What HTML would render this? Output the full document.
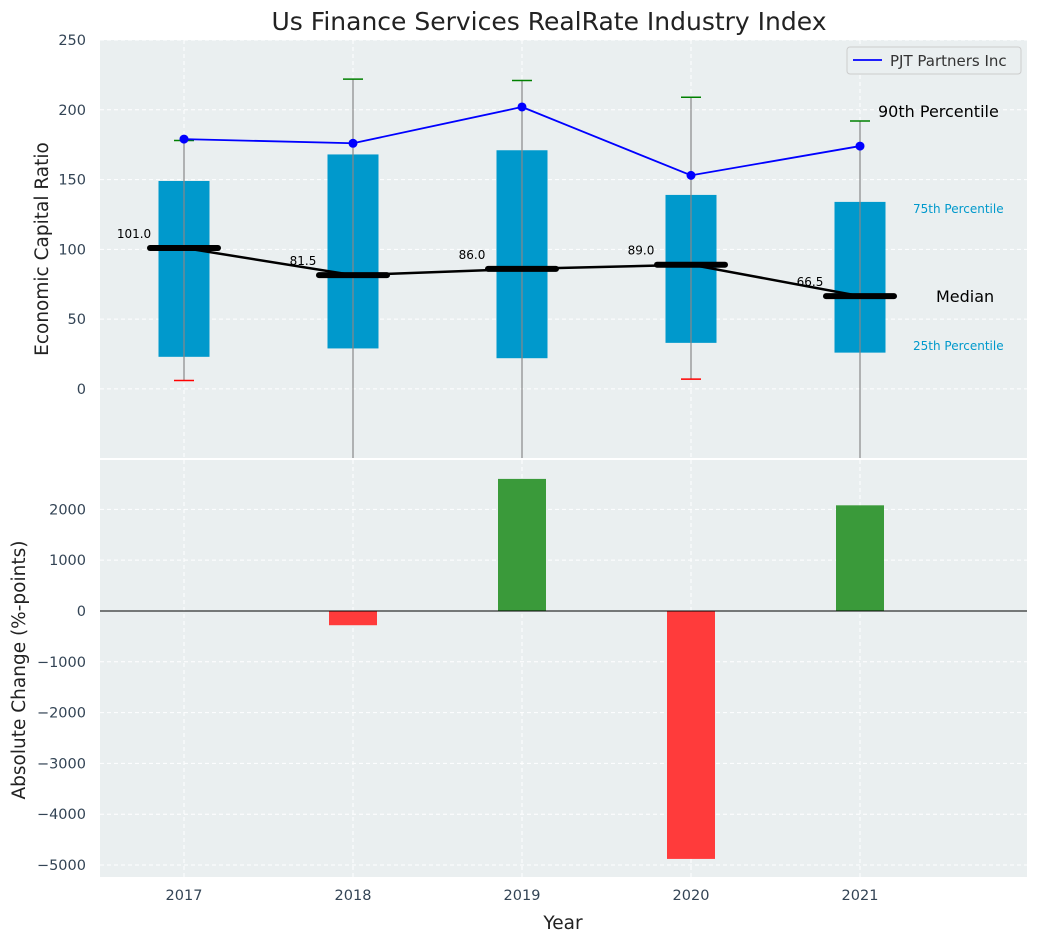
<!DOCTYPE html>
<html><head><meta charset="utf-8"><style>
body{margin:0;background:#fff;font-family:"Liberation Sans","DejaVu Sans",sans-serif}
svg text{font-family:"DejaVu Sans","Liberation Sans",sans-serif}
</style></head><body>
<svg id="c" width="1039" height="942" xmlns="http://www.w3.org/2000/svg"></svg>
<script>
const years=[2017,2018,2019,2020,2021];
const p75=[149,168,171,139,134];
const p25=[23,29,22,33,26];
const p90=[178,222,221,209,192];
const p10=[6,-60,-60,7,-60];
const medians=[101,81.5,86,89,66.5];
const company=[179,176,202,153,174];
const changes=[0,-280,2600,-4880,2080];
const topTicks=[0,50,100,150,200,250];
const botTicks=[-5000,-4000,-3000,-2000,-1000,0,1000,2000];
const NS="http://www.w3.org/2000/svg";
const svg=document.getElementById('c');
function el(t,a,txt){const e=document.createElementNS(NS,t);for(const k in a)e.setAttribute(k,a[k]);if(txt!=null)e.textContent=txt;svg.appendChild(e);return e;}
const L=100,R=1027;
const x=v=>184+(v-2017)*169;
const T0=40,T1=458,B0=460,B1=877;
const yT=v=>T0+(250-v)/(250-(-49.5))*(T1-T0);
const yB=v=>B0+(2972-v)/(2972-(-5236))*(B1-B0);
let e=el('rect',{x:L,y:T0,width:R-L,height:T1-T0,fill:'#eaeff0'});
e=el('rect',{x:L,y:B0,width:R-L,height:B1-B0,fill:'#eaeff0'});
topTicks.forEach(t=>{el('line',{x1:L,x2:R,y1:yT(t),y2:yT(t),stroke:'#fff','stroke-dasharray':'4,3','stroke-width':1});
e=el('text',{x:L-14,y:yT(t)+5,'text-anchor':'end','font-size':14.5,fill:'#334455'},t);});
botTicks.forEach(t=>{el('line',{x1:L,x2:R,y1:yB(t),y2:yB(t),stroke:'#fff','stroke-dasharray':'4,3','stroke-width':1});
e=el('text',{x:L-14,y:yB(t)+5,'text-anchor':'end','font-size':14.5,fill:'#334455'},t<0?'\u2212'+(-t):t);});
years.forEach(yv=>{el('line',{x1:x(yv),x2:x(yv),y1:T0,y2:T1,stroke:'#fff','stroke-dasharray':'4,3'});el('line',{x1:x(yv),x2:x(yv),y1:B0,y2:B1,stroke:'#fff','stroke-dasharray':'4,3'});
e=el('text',{x:x(yv),y:900,'text-anchor':'middle','font-size':14.5,fill:'#334455'},yv);});
const hw=25.5;
years.forEach((yv,i)=>{
 e=el('rect',{x:x(yv)-hw,y:yT(p75[i]),width:2*hw,height:yT(p25[i])-yT(p75[i]),fill:'#0099cc'});
 const lo=Math.max(p10[i],-49.5);
 e=el('line',{x1:x(yv),x2:x(yv),y1:yT(p90[i]),y2:p10[i]<-49?T1:yT(lo),stroke:'#888','stroke-width':1.2});
 el('line',{x1:x(yv)-10,x2:x(yv)+10,y1:yT(p90[i]),y2:yT(p90[i]),stroke:'green','stroke-width':1.5});
 if(p10[i]>-49)el('line',{x1:x(yv)-10,x2:x(yv)+10,y1:yT(p10[i]),y2:yT(p10[i]),stroke:'red','stroke-width':1.5});
});
el('polyline',{points:years.map((yv,i)=>x(yv)+','+yT(medians[i])).join(' '),fill:'none',stroke:'#000','stroke-width':2.5});
const mw=34;
years.forEach((yv,i)=>{e=el('line',{x1:x(yv)-mw,x2:x(yv)+mw,y1:yT(medians[i]),y2:yT(medians[i]),stroke:'#000','stroke-width':6,'stroke-linecap':'round'});
 el('text',{x:x(yv)-50,y:yT(medians[i])-10,'text-anchor':'middle','font-size':12,fill:'#000'},medians[i].toFixed(1));});
e=el('polyline',{points:years.map((yv,i)=>x(yv)+','+yT(company[i])).join(' '),fill:'none',stroke:'#0000ff','stroke-width':1.8});
years.forEach((yv,i)=>{e=el('circle',{cx:x(yv),cy:yT(company[i]),r:4.5,fill:'#0000ff'});});
el('text',{x:878,y:117,'font-size':16,fill:'#000'},'90th Percentile');
el('text',{x:913,y:213,'font-size':12,fill:'#0099cc'},'75th Percentile');
el('text',{x:936,y:302,'font-size':16,fill:'#000'},'Median');
el('text',{x:913,y:350,'font-size':12,fill:'#0099cc'},'25th Percentile');
e=el('rect',{x:847,y:47,width:174,height:27,rx:3,fill:'#eaeff0',stroke:'#ccc'});
el('line',{x1:853,x2:882,y1:60,y2:60,stroke:'#0000ff','stroke-width':1.8});
el('text',{x:890,y:66,'font-size':15,fill:'#333'},'PJT Partners Inc');
const bw=24;
years.forEach((yv,i)=>{const v=changes[i];e=el('rect',{x:x(yv)-bw,y:Math.min(yB(v),yB(0)),width:2*bw,height:Math.abs(yB(v)-yB(0)),fill:v>=0?'#3a9a3a':'#ff3b3b'});});
el('line',{x1:L,x2:R,y1:yB(0),y2:yB(0),stroke:'#000','stroke-width':1});
e=el('text',{x:549,y:30,'text-anchor':'middle','font-size':25,fill:'#222'},'Us Finance Services RealRate Industry Index');
e=el('text',{x:48,y:249,'text-anchor':'middle','font-size':18.5,fill:'#222',transform:'rotate(-90 48 249)'},'Economic Capital Ratio');
e=el('text',{x:25,y:670,'text-anchor':'middle','font-size':18.5,fill:'#222',transform:'rotate(-90 25 670)'},'Absolute Change (%-points)');
e=el('text',{x:563,y:929,'text-anchor':'middle','font-size':18.5,fill:'#222'},'Year');
</script>
</body></html>
